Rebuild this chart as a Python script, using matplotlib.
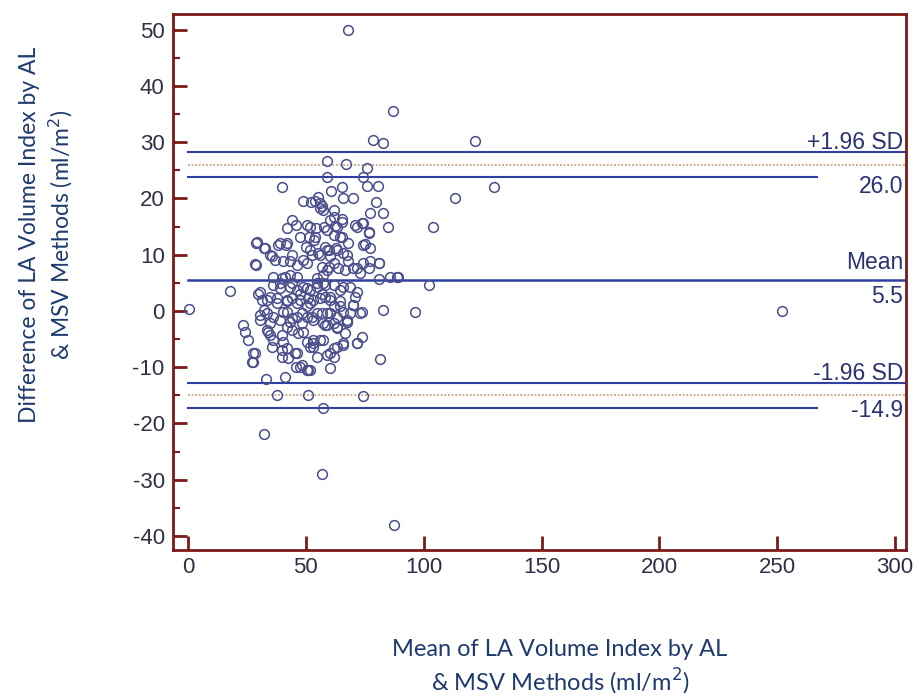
import matplotlib
matplotlib.use("Agg")
import matplotlib.pyplot as plt
from matplotlib.ticker import MultipleLocator

plt.rcParams["axes.unicode_minus"] = False

# ---- data ----
mean_vals = [
    0.5, 68, 87, 78.6, 82.6, 121.8, 58.8, 66.9, 76.1, 58.8, 74.1, 40, 75.8, 80.7, 130, 113.3,
    60.7, 65.5, 48.9, 52, 56.7, 65.9, 69.9, 61.7, 79.8, 77.2, 82.9, 85, 104.1, 61.9, 65.2, 71.6,
    74.1, 76.9, 44, 45.8, 42.1, 51.8, 54.3, 57.7, 58.8, 51.5, 53.5, 63.1, 64.5, 68, 75.1, 77.2,
    28.9, 32.7, 34.8, 39, 41.6, 28.9, 36.9, 40.4, 44, 46.1, 50.1, 52.5, 50.4, 55.3, 58.1, 60.2,
    62.8, 65.9, 68, 56.7, 58.8, 61.7, 63.8, 71.6, 74.1, 76.9, 81.2, 85.7, 89.2, 102.4, 17.8, 36.2,
    39, 41.2, 44, 46.1, 29.8, 31.3, 34.8, 37.6, 48.9, 51.8, 54.6, 56.7, 60.2, 64.5, 68.7, 70.9,
    41.9, 46.1, 50.4, 53.1, 61.7, 65.9, 70.1, 73.7, 82.9, 96.1, 23.5, 30.5, 34.8, 39, 43.3, 48.2,
    53.1, 57.4, 61.7, 67.3, 30.5, 33.4, 36.2, 41.9, 46.1, 50.4, 54.6, 58.8, 63.1, 73, 24.2, 25.6,
    28.4, 27.5, 33.4, 34.8, 35.5, 44, 40.4, 41.9, 39.8, 46.8, 48.9, 50.4, 51.8, 53.1, 45.4, 45.8,
    48.2, 50.6, 57.4, 58.8, 61.7, 60.2, 63.1, 66.6, 65.9, 61.7, 71.6, 73.7, 81.5, 33, 41.2, 37.6,
    51, 74.1, 57.4, 32.4, 57, 87.4, 252, 56, 53.9, 57.4, 73.7, 70.9, 60.2, 62.4, 65.2, 61.7,
    65.2, 53.9, 36.2, 39, 43.3, 46.1, 50.4, 54.6, 57.4, 61.7, 33.4, 37.6, 41.9, 47.5, 51.8, 56,
    60.2, 64.5, 70.1, 55.2, 56, 50.4, 47.5, 29.1, 32, 35.5, 38.3, 41.9, 28.4, 43.3, 48.9, 51.8,
    56, 58.8, 39.8, 43.3, 54.6, 57.4, 30.5, 44, 47.5, 51, 58.1, 32, 40.4, 44, 48.2, 52.5,
    56.7, 60.2, 67.3, 74.4, 76.6, 59.6, 63.1, 67.3, 77.2, 80.8, 59.6, 66.6, 70.1, 73, 80.8, 88.5,
    71.6, 58.1, 65.9, 64.5, 68.7, 34.1, 36.2, 39.8, 41.9, 39.8, 42.6, 46.1, 47.5, 51, 53.1, 54.6,
    58.8, 58.1, 63.1, 67.3, 71.6, 56, 53.1, 60.2, 63.1, 65.9, 51.8, 27.7, 27,
]
diff_vals = [
    0.3, 50, 35.5, 30.4, 29.8, 30.2, 26.7, 26.2, 25.5, 23.8, 23.9, 22.1, 22.2, 22.2, 22, 20,
    21.4, 22, 19.6, 19.4, 18.6, 20, 20, 18, 19.3, 17.5, 17.5, 15, 15, 16.7, 16.3, 15,
    15.7, 14.1, 16.2, 15.3, 14.7, 15, 14.8, 15, 14.4, 13.2, 12.6, 15, 13.2, 12, 11.9, 11.2,
    12, 11.2, 10, 12, 11.7, 8.2, 9.1, 8.8, 10, 8.2, 11.4, 10, 8.5, 10.3, 11.4, 9.7,
    11.2, 10.3, 8.8, 7.9, 7.3, 8.5, 7.6, 7.6, 8.5, 7.6, 8.5, 6.1, 6.1, 4.6, 3.6, 6.1,
    4.9, 6.1, 4.9, 6.1, 3.1, 2, 2.5, 1.4, 4.3, 3.7, 4.9, 3.1, 2.5, 3.7, 4.3, 2.5,
    2, 1.4, 0.8, 2, 0.8, -0.1, 1.1, -0.1, 0.2, -0.1, -2.5, -1.6, -2.2, -1.6, -1.9, -2.2,
    -1.6, -2.2, -2.2, -1.6, -0.7, -0.4, -1, -0.1, -1, -1, -0.4, -0.4, -1, -0.3, -3.7, -5.2,
    -7.4, -9, -3.4, -4.3, -6.4, -3.4, -5.5, -6.6, -8.1, -4, -3.7, -5.5, -6.4, -5.7, -7.5, -10,
    -9.6, -10.5, -5.2, -7.8, -8.1, -10.2, -3.1, -4, -5.7, -6.6, -5.7, -4.6, -8.6, -12.1, -11.8, -15,
    -15, -15.2, -17.2, -21.8, -28.9, -38.1, 0, 19.2, 19.5, 18, 15.6, 15.3, 16.2, 15.1, 15.9, 13.5,
    13.2, 13.2, 4.6, 4, 4.3, 3.7, 4, 4.3, 4.9, 4.6, 2, 2.3, 1.7, 2, 1.4, 2.3,
    2, 0.8, 1.1, 20.3, 18.3, 15.3, 13.2, 12.2, 11.2, 9.7, 11.7, 12, 8.3, 8.8, 9.1, 10.9,
    10, 10.9, 5.8, 6.4, 5.8, 6.4, 3.4, 2.3, 3.1, 2.3, 2.5, 0.2, -0.1, -1.3, -0.4, -1,
    -0.4, -0.4, -1.9, 11.7, 13.8, 10.9, 10.9, 10, 8.8, 8.5, 7.9, 7.3, 7.6, 6.7, 5.6, 6.1,
    3.4, 4.6, 4.3, 1.7, -0.4, -3.7, -5.2, -4.3, -2.8, -6.9, -8.4, -7.5, -9.9, -10.5, -5.2, -8.1,
    -2.5, -2.5, -2.8, -1.9, -5.7, -5.2, -6.4, -7.5, -6.4, -6, -10.5, -7.5, -9,
]

mean_diff = 5.5
upper_loa = 26.0
lower_loa = -14.9
upper_ci = [28.2, 23.8]
lower_ci = [-12.8, -17.3]
right_labels = ["+1.96 SD", "26.0", "Mean", "5.5", "-1.96 SD", "-14.9"]

x_ticks = [0, 50, 100, 150, 200, 250, 300]
y_ticks = [-40, -30, -20, -10, 0, 10, 20, 30, 40, 50]

# ---- style ----
spine_col = "#7a1a1a"
line_col = "#3040a0"
dot_col = "#c9a27e"
marker_col = "#4a4f8c"
text_col = "#2a3270"
tick_col = "#2e3046"
label_col = "#1f3a6e"

fig = plt.figure(figsize=(9.19, 6.98), dpi=100)
ax = fig.add_axes([173/919, 1-550/698, (906-173)/919, (550-14)/698])

ax.set_xlim(-6.4, 304.6)
ax.set_ylim(-42.5, 52.8)

xr = 304
xs = 267
ax.plot([0, xr], [mean_diff, mean_diff], color=line_col, lw=1.8, zorder=2)
ax.plot([0, xr], [upper_ci[0], upper_ci[0]], color=line_col, lw=1.5, zorder=2)
ax.plot([0, xs], [upper_ci[1], upper_ci[1]], color=line_col, lw=1.5, zorder=2)
ax.plot([0, xr], [lower_ci[0], lower_ci[0]], color=line_col, lw=1.5, zorder=2)
ax.plot([0, xs], [lower_ci[1], lower_ci[1]], color=line_col, lw=1.5, zorder=2)
ax.plot([0, xr], [upper_loa, upper_loa], color=dot_col, lw=1.3, ls=(0, (1, 1)), zorder=2)
ax.plot([0, xr], [lower_loa, lower_loa], color=dot_col, lw=1.3, ls=(0, (1, 1)), zorder=2)

ax.plot(mean_vals, diff_vals, ls="none", marker="o", ms=7, mfc="none",
        mec=marker_col, mew=1.1, zorder=3)

tx = 303.3
fs = 16.5
tkw = dict(ha="right", fontsize=fs, color=text_col, family="Liberation Sans")
ax.text(tx, upper_ci[0] - 0.3, right_labels[0], va="bottom", **tkw)
ax.text(tx, 22.1, right_labels[1], va="center", **tkw)
ax.text(tx, 8.6, right_labels[2], va="center", **tkw)
ax.text(tx, 2.5, right_labels[3], va="center", **tkw)
ax.text(tx, lower_ci[0] - 0.3, right_labels[4], va="bottom", **tkw)
ax.text(tx, -17.7, right_labels[5], va="center", **tkw)

for s in ["left", "bottom", "right", "top"]:
    ax.spines[s].set_color(spine_col)
    ax.spines[s].set_linewidth(2)

ax.set_xticks(x_ticks)
ax.set_yticks(y_ticks)
ax.yaxis.set_minor_locator(MultipleLocator(5))
ax.tick_params(axis="both", which="major", direction="in", length=10, width=2,
               color=spine_col, labelcolor=tick_col, labelsize=16)
ax.tick_params(axis="y", which="minor", direction="in", length=5, width=1.5, color=spine_col)
ax.tick_params(axis="x", pad=5)
ax.tick_params(axis="y", pad=6)
for lab in ax.get_xticklabels() + ax.get_yticklabels():
    lab.set_family("Liberation Sans")

fig.text(47/919, 1-235/698, "Difference of LA Volume Index by AL\n& MSV Methods (ml/m$^2$)",
         rotation=90, ha="center", va="center", fontsize=16.5, color=label_col,
         family="Lato", linespacing=1.3)
fig.text(560/919, 1-668/698, "Mean of LA Volume Index by AL\n& MSV Methods (ml/m$^2$)",
         ha="center", va="center", fontsize=17, color=label_col, family="Lato",
         linespacing=1.25)

fig.savefig("out.png", dpi=100)
